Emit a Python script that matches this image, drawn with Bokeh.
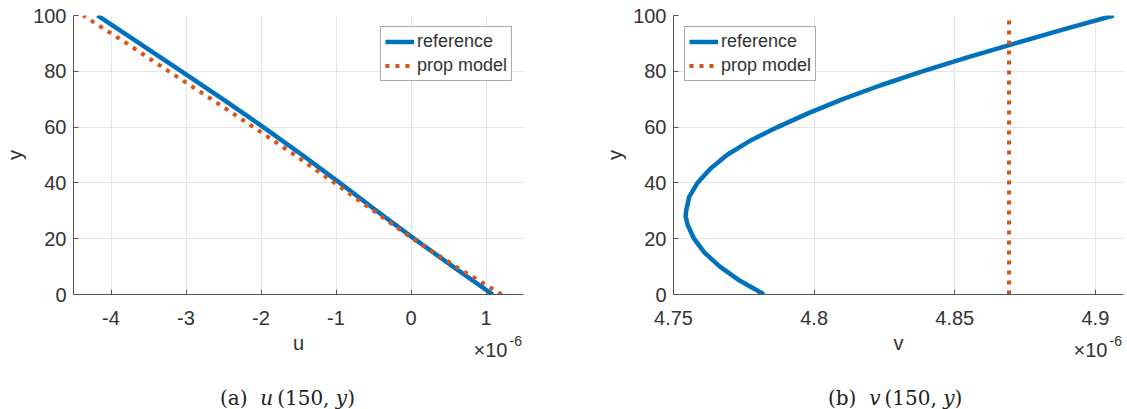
from bokeh.plotting import figure
from bokeh.layouts import row, column
from bokeh.models import Range1d, FixedTicker, CustomJSTickFormatter, LinearAxis, Div
from bokeh.embed import file_html
from bokeh.resources import INLINE

# ---------------- data (x values in units of 1e-6) ----------------
y_u = [0, 10, 20, 30, 40, 50, 60, 70, 80, 90, 100]
u_reference = [1.09, 0.56, 0.04, -0.46, -0.95, -1.45, -1.97, -2.51, -3.06, -3.62, -4.18]
u_prop_model = [1.21, 0.60, 0.02, -0.50, -1.02, -1.55, -2.10, -2.66, -3.23, -3.79, -4.37]

y_v = [0, 5, 10, 15, 20, 25, 28, 30, 35, 40, 45, 50, 55, 60, 65, 70, 75, 80, 85, 90, 95, 100]
v_reference = [4.7822, 4.7735, 4.7665, 4.7610, 4.7573, 4.7550, 4.7543, 4.7545, 4.7556, 4.7585,
               4.7630, 4.7690, 4.7770, 4.7870, 4.7980, 4.8102, 4.8237, 4.8385, 4.8545, 4.8715,
               4.8887, 4.9065]
y_v_prop = [0, 100]
v_prop_model = [4.8693, 4.8693]

u_ticks = [-4, -3, -2, -1, 0, 1]
v_ticks = [4.75, 4.8, 4.85, 4.9]
y_ticks = [0, 20, 40, 60, 80, 100]
u_range = (-4.5, 1.5)
v_range = (4.75, 4.91)
y_range = (0, 100)

series_labels = ["reference", "prop model"]
x_labels = ["u", "v"]
caption_tags = ["(a)", "(b)"]
exp_base = "×10"
exp_power = "-6"

BLUE = "#0072BD"
ORANGE = "#D95319"
TXT = "#333333"
AX = "#555555"
SANS = "Liberation Sans"
SERIF = "DejaVu Serif"

FRAME_W = 450
FRAME_H = 279
TOP = 15
BOTTOM = 78


def text_row(p, positions, labels, size, standoff):
    """An extra tick-less axis under the x axis, used as a row of text."""
    ax = LinearAxis(ticker=FixedTicker(ticks=positions),
                    formatter=CustomJSTickFormatter(args=dict(labels=labels),
                                                    code="return labels[index]"))
    ax.axis_line_color = None
    ax.major_tick_line_color = None
    ax.minor_tick_line_color = None
    ax.major_tick_in = 0
    ax.major_tick_out = 0
    ax.major_label_standoff = standoff
    ax.major_label_text_font = SANS
    ax.major_label_text_font_size = size
    ax.major_label_text_color = TXT
    p.add_layout(ax, "below")


def make_panel(xs_ref, ys_ref, xs_prop, ys_prop, xr, xticks, xlabel, legend_loc,
               border_left, border_right):
    p = figure(width=border_left + FRAME_W + border_right, height=TOP + FRAME_H + BOTTOM,
               frame_width=FRAME_W, frame_height=FRAME_H,
               min_border_left=border_left, min_border_right=border_right,
               min_border_top=TOP, min_border_bottom=BOTTOM,
               x_range=Range1d(*xr), y_range=Range1d(*y_range),
               output_backend="svg", toolbar_location=None)
    p.outline_line_color = None
    p.background_fill_color = "white"
    p.border_fill_color = "white"

    p.line(xs_ref, ys_ref, line_color=BLUE, line_width=4.5, line_join="round",
           legend_label=series_labels[0])
    p.line(xs_prop, ys_prop, line_color=ORANGE, line_width=4, line_dash="4 6",
           line_cap="butt", legend_label=series_labels[1])

    p.xaxis.ticker = FixedTicker(ticks=xticks)
    p.yaxis.ticker = FixedTicker(ticks=y_ticks)
    p.xaxis.formatter = CustomJSTickFormatter(code="return tick.toString()")
    p.yaxis.formatter = CustomJSTickFormatter(code="return tick.toString()")
    for ax in (p.xaxis[0], p.yaxis[0]):
        ax.axis_line_color = AX
        ax.axis_line_width = 1
        ax.major_tick_line_color = AX
        ax.major_tick_in = 5
        ax.major_tick_out = 0
        ax.minor_tick_line_color = None
        ax.major_label_text_font = SANS
        ax.major_label_text_font_size = "20px"
        ax.major_label_text_color = TXT
        ax.axis_label_text_font = SANS
        ax.axis_label_text_font_size = "20px"
        ax.axis_label_text_font_style = "normal"
        ax.axis_label_text_color = TXT
    p.yaxis.axis_label = "y"
    p.xaxis.major_label_standoff = 16
    p.yaxis.major_label_standoff = 7
    p.yaxis.axis_label_standoff = 4

    # rows under the x axis: exponent power (right), axis name (centre), exponent base (right)
    x0, x1 = xr
    per_px = (x1 - x0) / FRAME_W
    text_row(p, [x1 - 7.7 * per_px], [exp_power], "14px", 8)
    text_row(p, [(x0 + x1) / 2], [xlabel], "20px", -17)
    text_row(p, [x1 - 33 * per_px], [exp_base], "20px", -18)

    p.xgrid.grid_line_color = "#e5e5e5"
    p.ygrid.grid_line_color = "#e5e5e5"

    lg = p.legend[0]
    lg.location = legend_loc
    lg.margin = 11
    lg.padding = 4
    lg.spacing = 3
    lg.glyph_width = 29
    lg.glyph_height = 19
    lg.label_height = 19
    lg.label_standoff = 3
    lg.label_text_font = SANS
    lg.label_text_font_size = "18px"
    lg.label_text_color = TXT
    lg.border_line_color = AX
    lg.border_line_width = 1
    lg.background_fill_color = "white"
    lg.background_fill_alpha = 1.0
    return p


def caption(tag, var, width, left):
    html = ('<div style="margin-left:%dpx; padding-top:10px; font-family:\'%s\', serif; '
            'font-size:20px; line-height:22px; color:#222222; white-space:nowrap;">'
            '%s&nbsp;&nbsp;<i>%s</i>&#8201;(150,&nbsp;<i>y</i>)</div>') % (left, SERIF, tag, var)
    return Div(text=html, width=width, height=409 - (TOP + FRAME_H + BOTTOM))


W1 = 73 + FRAME_W + 75
W2 = 75 + FRAME_W + 4
p1 = make_panel(u_reference, y_u, u_prop_model, y_u, u_range, u_ticks, x_labels[0],
                "top_right", 73, 75)
p2 = make_panel(v_reference, y_v, v_prop_model, y_v_prop, v_range, v_ticks, x_labels[1],
                "top_left", 75, 4)

layout = column(row(p1, p2),
                row(caption(caption_tags[0], x_labels[0], W1, 215),
                    caption(caption_tags[1], x_labels[1], W2, 215)))
open("out.html", "w").write(file_html(layout, INLINE))
